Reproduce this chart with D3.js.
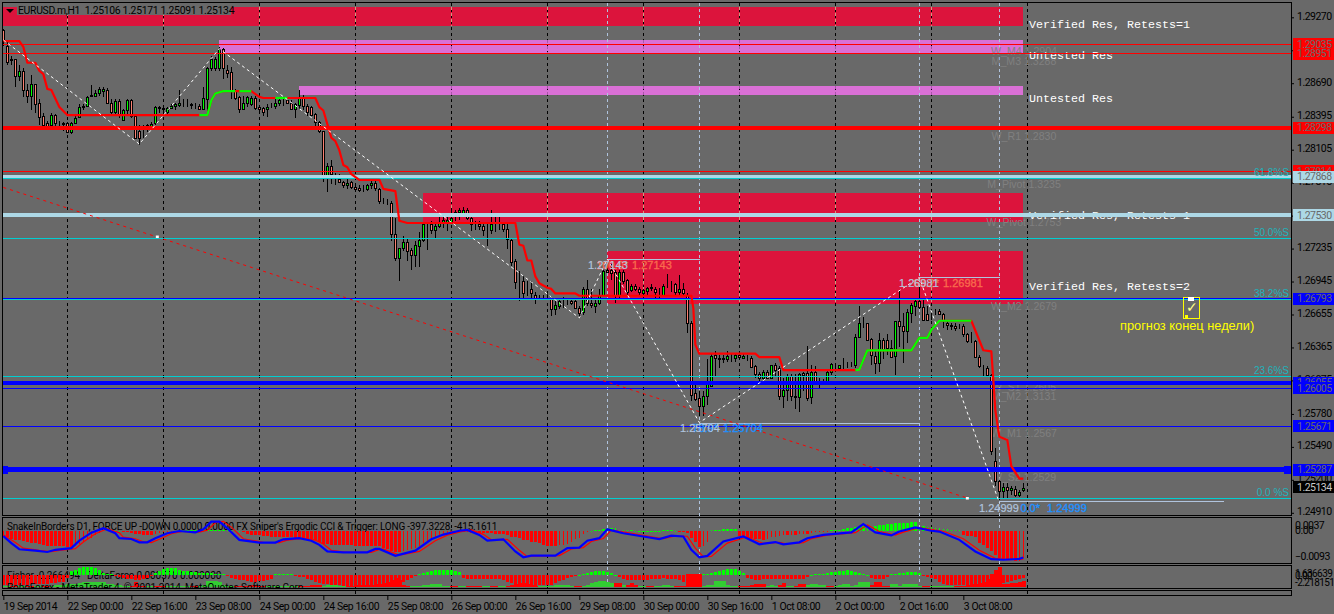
<!DOCTYPE html>
<html><head><meta charset="utf-8">
<script src="https://cdnjs.cloudflare.com/ajax/libs/d3/7.8.5/d3.min.js"></script>
<style>
html,body{margin:0;padding:0;background:#696969;overflow:hidden}
svg{display:block}
text{font-family:"Liberation Sans",Arial,sans-serif}
.ui{font-family:Roboto,"Liberation Sans",sans-serif}
</style></head><body><svg id="c" width="1334" height="614"></svg>
<script>
// Candles: pips above 1.2500, hourly EURUSD
const PRICE_BASE=1.25;
const opens=[416,402,390,390,375,380,363,358,368,352,340,334,332,341,334,334,334,326,334,339,
348,349,359,358,360,362,363,352,344,353,337,345,354,340,327,327,331,331,334,347,
347,344,347,349,350,351,351,351,350,349,346,355,382,382,382,399,381,379,363,357,
346,352,351,356,348,347,346,349,349,352,353,354,352,346,350,357,349,348,342,335,
327,288,296,289,285,282,279,282,278,277,276,276,279,281,276,265,265,264,236,215,
224,229,222,218,226,231,245,245,240,243,246,247,247,254,256,255,257,250,245,245,
243,243,240,245,245,245,241,231,213,195,195,188,188,183,181,181,182,179,170,173,
178,177,177,177,171,168,188,176,173,176,183,205,205,203,183,203,196,187,191,188,
184,186,189,188,187,183,192,192,192,185,188,183,158,96,92,85,94,103,130,127,
127,126,129,127,130,127,129,127,120,113,110,115,110,121,118,94,99,111,94,93,
114,114,93,115,107,107,107,115,120,118,120,120,120,121,146,158,158,144,129,123,
143,143,136,129,160,155,151,167,173,177,172,166,166,168,169,166,158,156,155,155,
155,148,142,142,128,119,118,112,37,19,10,14,11,12,7,11];
const highs=[417,407,393,390,385,382,368,376,368,355,343,336,343,342,336,335,335,335,342,351,
351,358,367,363,366,366,365,355,355,355,346,355,355,340,332,332,333,335,349,349,
349,348,351,352,363,355,355,352,352,351,366,383,393,392,401,400,385,383,364,358,
358,358,358,358,349,348,351,352,355,357,356,357,354,352,363,359,351,349,343,336,
327,299,301,290,289,283,285,283,280,279,279,280,283,283,277,268,267,265,250,224,
235,233,224,230,238,246,245,248,245,251,251,251,257,257,259,260,259,252,248,248,
246,246,257,251,251,245,245,232,214,204,199,195,195,185,183,183,184,182,177,180,
181,180,180,180,173,190,196,188,179,188,205,213,210,205,205,205,197,192,192,190,
188,190,192,190,189,192,201,195,193,200,193,184,160,107,98,98,126,132,133,130,
130,133,131,131,131,131,130,129,121,115,117,117,121,123,120,110,113,113,113,114,
115,138,121,120,110,109,117,123,121,121,127,124,124,148,173,163,158,145,133,149,
145,148,143,160,186,167,170,176,178,190,179,173,168,170,170,167,161,158,158,157,
157,149,150,143,130,121,120,113,48,20,17,17,15,15,11,17];
const lows=[402,385,385,366,371,357,352,345,343,332,331,331,331,331,331,327,325,324,333,338,
345,348,357,357,358,357,351,342,342,338,336,342,338,320,315,321,326,329,332,343,
341,342,346,345,348,348,348,346,346,345,345,342,380,380,380,373,374,355,354,343,
345,348,349,345,342,340,339,347,346,349,349,351,345,338,346,345,340,340,330,325,
282,273,280,279,282,277,276,276,274,273,273,274,276,274,263,263,262,230,213,195,
221,213,205,207,207,229,222,236,233,242,242,239,245,248,249,252,249,239,240,240,
235,226,236,238,240,238,223,208,188,177,179,182,179,175,179,179,179,164,165,170,
171,174,174,170,163,165,173,171,167,174,182,202,196,176,180,192,182,185,186,182,
183,183,186,180,180,182,189,185,183,183,183,149,89,89,76,76,86,102,111,118,
123,124,124,124,126,126,125,118,110,107,108,110,110,111,90,83,89,89,82,80,
98,89,87,105,101,105,107,112,115,117,117,118,119,118,145,154,142,121,113,115,
126,130,127,112,137,123,140,158,164,170,160,160,161,165,165,154,152,152,151,153,
146,140,140,127,118,111,111,42,15,2,3,3,7,5,5,9];
const closes=[407,388,389,375,380,363,358,368,351,339,332,331,341,334,334,333,326,334,338,348,
349,357,358,360,364,364,352,344,353,342,345,354,340,321,321,327,332,333,348,348,
346,347,349,351,352,351,351,350,350,346,356,382,390,390,399,382,378,363,356,346,
352,357,356,347,346,344,348,349,352,354,353,352,346,351,357,349,344,341,335,327,
288,296,289,289,282,279,281,278,276,275,276,279,281,277,265,265,265,236,215,224,
229,221,218,227,231,245,245,240,243,246,249,249,250,256,257,257,250,245,245,243,
240,243,245,245,245,241,232,212,194,195,184,188,184,180,181,181,182,170,174,177,
178,177,176,171,167,188,176,174,176,183,204,203,202,183,203,195,185,191,188,185,
187,189,190,185,187,191,192,192,185,188,184,158,95,91,85,94,104,129,127,126,
126,129,129,130,128,129,129,119,113,110,115,110,121,117,94,99,111,94,93,113,
112,92,115,107,107,107,115,122,120,121,120,120,120,146,158,158,143,130,123,143,
135,136,128,160,155,151,168,174,177,172,161,161,166,168,166,161,156,155,154,155,
148,142,142,128,120,119,112,45,19,10,14,11,13,7,9,13];

// Stop line vertices (bar, pips above base), with the colour run each vertex belongs to
const stopBars=[0,4,5,6,8,9,10,11,12,14,16,49,51,52,53,55,58,59,62,64,65,68,71,78,79,80,81,82,83,84,85,86,87,89,94,95,98,99,101,128,129,130,131,132,133,134,136,137,138,143,144,172,172.5,173,174,188,189,194,195,213,214,216,222,227,229,231,232,234,242,245,247,247.5,248,249,251,252,254,255];
const stopPips=[406,406,401,387,387,380,377,364,363,348,341,341,341,354,360,362,362,362,362,357,356,356,356,356,348,345,333,321,318,310,297,295,289,284,284,276,274,248,246,246,227,226,213,213,199,193,189,188,184,184,182,182,171,139,131,131,128,128,116.5,116.5,117,134,134,134,145,145,152,160,160,134,133,108,81,58,55,32,21,21];
const stopGreenRuns=[[49,58],[59,62],[68,71],[213,242]];

// Horizontal levels
const levelPrices=[1.29035,1.28951,1.27914,1.28298,1.27868,1.27530,1.26793,1.26055,1.26005,1.25671,1.25287];
const levelKinds=["r","r","r","R","L","L","b","B","b","b","X"];
const fibPrices=[1.27860,1.27325,1.26789,1.26115,1.25042];
const fibLabels=["61.8%S","50.0%S","38.2%S","23.6%S","0.0 %S"];
const lastPrice=1.25134;

// Supply/demand zones
const zoneStart=[0,54,74,105,151];
const zoneEnd=255;
const zoneTop=[1.29358,1.29070,1.28665,1.27726,1.27213];
const zoneBottom=[1.29196,1.28956,1.28586,1.27469,1.26747];
const zoneKinds=["v","u","u","v","v"];
const zoneTexts=["Verified Res, Retests=1","Untested Res","Untested Res","Verified Res, Retests=1","Verified Res, Retests=2"];
const zoneTextPrices=[1.29206,1.28931,1.28551,1.27525,1.26895];

// Pivot labels
const pivotNames=["W_M4 1.2904","M_M3 1.3288","W_R1 1.2830","M_Pivot 1.3235","W_Pivot 1.2753","W_M2 1.2679","W_S1 1.2605","M_M2 1.3131","W_M1 1.2567","W_S2 1.2529"];
const pivotPrices=[1.28975,1.28885,1.28225,1.27800,1.27465,1.26730,1.26020,1.25935,1.25610,1.25225];

// Zigzag and fib anchors
const zigBars=[0,34,54,144,151,174,229,249];
const zigPips=[407,315.5,399.3,162.5,214.3,70.4,198.1,-0.1];
const segFrom=[151,174,229,249];
const segTo=[174,229,249,305];
const segPrice=[1.27143,1.25704,1.26981,1.25012];
const segText=["1.27143","1.25704","1.26981","1.24999"];
const segMid=["100.0*","78.9*","63.2*","0.0*"];

const trendBars=[0,241];
const trendPrices=[1.27773,1.25040];
const trendMarkBars=[38.5,241];
const trendMarkPrices=[1.27341,1.25040];

// Separators
const dayBars=[16,40,64,88,112,136,160,184,208,232,256];
const markBars=[151,174,229,249];
const priceTicks=[1.29270,1.28980,1.28690,1.28395,1.28105,1.27815,1.27525,1.27235,1.26945,1.26655,1.26365,1.26075,1.25780,1.25490,1.25200,1.24910];
const timeBars=[0,16,32,48,64,80,96,112,128,144,160,176,192,208,224,240];
const timeLabels=["19 Sep 2014","22 Sep 00:00","22 Sep 16:00","23 Sep 08:00","24 Sep 00:00","24 Sep 16:00","25 Sep 08:00","26 Sep 00:00","26 Sep 16:00","29 Sep 08:00","30 Sep 00:00","30 Sep 16:00","1 Oct 08:00","2 Oct 00:00","2 Oct 16:00","3 Oct 08:00"];

// Ergodic CCI histogram and lines (units of 0.0001)
const ergoHist=[-18,-22,-28,-32,-34,-36,-38,-42,-44,-46,-50,-54,-56,-56,-56,-56,-58,-60,-54,-48,
-40,-30,-24,-16,-8,2,4,4,3,1,-2,-4,-8,-10,-12,-13,-14,-14,-10,-6,
-4,-3,-2,-1,1,2,3,3,3,2,2,3,4,4,5,5,4,3,2,1,
-4,-10,-14,-16,-16,-18,-18,-20,-20,-20,-22,-22,-22,-24,-26,-28,-28,-30,-32,-40,
-46,-48,-50,-50,-52,-52,-52,-52,-53,-53,-54,-54,-55,-55,-55,-62,-66,-72,-75,-75,
-74,-70,-66,-60,-54,-44,-36,-30,-24,-16,-10,-8,-10,-6,-4,-4,-3,-6,-8,-8,
-8,-8,-8,-10,-10,-12,-16,-20,-22,-26,-32,-34,-38,-40,-42,-52,-53,-53,-53,-52,
-50,-46,-38,-30,-24,-10,-3,1,3,4,6,10,12,10,4,3,2,2,1,1,
1,1,1,1,1,2,2,2,1,-1,-2,-8,-26,-38,-59,-56,-38,3,4,5,
6,8,9,9,-18,-20,-24,-26,-28,-30,-32,-28,-22,-20,-18,-16,-16,-14,-14,-12,
-10,-10,-8,-4,-3,-2,-1,2,3,5,8,10,12,14,16,18,16,10,18,20,
22,24,26,28,28,30,30,31,31,16,18,16,14,12,10,8,6,5,4,2,
-16,-18,-18,-22,-44,-52,-62,-72,-86,-98,-104,-104,-106,-110,-108,-98];
const ergoBars=[0,2,4,8,11,13,17,19,22,25,28,29,32,34,36,38,41,44,48,50,52,54,56,59,64,68,70,74,77,79,81,85,91,93,94,98,103,107,110,114,116,119,121,125,128,130,132,138,141,144,146,149,151,155,160,164,167,170,172,174,176,180,185,189,193,195,199,201,205,212,215,218,222,224,228,232,234,239,243,247,250,254,255];
const ergoValues=[-18,-44,-66,-71,-76,-68,-62,-35,-6,10,-8,-26,-29,-41,-41,-26,-8,0,-5,6,34,34,10,-32,-42,-42,-30,-26,-35,-50,-74,-77,-77,-65,-65,-90,-71,-30,-13,1,4,-14,-35,-30,-74,-95,-89,-89,-62,-60,-35,-26,6,-8,-20,-29,-17,-20,-68,-95,-90,-38,-20,-48,-40,-48,-41,-26,-14,-5,25,-5,-16,-2,13,1,-2,-32,-74,-102,-104,-101,-96];
const trigBars=[0,3,5,9,12,14,18,20,23,26,29,30,33,35,37,39,42,45,49,51,53,55,57,60,65,69,71,75,78,80,82,86,92,94,95,99,104,108,111,115,117,120,122,126,129,131,133,139,142,145,147,150,152,156,161,165,168,171,173,175,177,181,186,190,194,196,200,202,206,213,216,219,223,225,229,233,235,240,244,248,251,255];
const trigValues=[-14,-42,-62,-70,-75,-70,-64,-40,-10,8,-6,-22,-28,-39,-42,-30,-10,-1,-4,3,30,35,14,-28,-41,-42,-33,-27,-33,-47,-70,-77,-77,-67,-65,-87,-74,-35,-15,-1,4,-12,-32,-30,-70,-93,-91,-89,-65,-60,-38,-27,3,-6,-18,-28,-18,-19,-62,-93,-92,-44,-21,-45,-41,-47,-42,-28,-15,-6,22,-2,-15,-4,12,3,-1,-28,-70,-99,-104,-102];
const ergoTicks=[0.0037,0,-0.0093];

// Fisher histogram and DeltaForce columns
const fisher=[-3.3,-3.3,-3.3,-3.3,-3.3,-3.2,-3.2,-3.1,-3.1,-3.0,-3.0,-2.9,-2.8,-2.6,-2.4,-2.2,-1.0,1.2,1.8,2.2,
2.6,2.8,2.6,2.4,1.8,0.8,0.4,0.3,-0.3,-0.6,-1.0,-1.2,-1.4,-1.5,-1.6,-1.4,-0.9,-0.4,0.5,1.4,
2.0,2.2,2.3,2.2,1.6,1.4,1.3,1.1,0.9,0.8,0.7,0.6,0.5,0.4,0.4,0.2,-0.3,-0.9,-1.2,-1.6,
-1.8,-2.0,-2.2,-2.2,-2.1,-2.0,-1.7,-1.2,0.2,0.3,0.4,0.4,0.3,-0.3,-0.6,-0.8,-1.2,-1.8,-2.2,-2.6,
-2.9,-3.0,-3.2,-3.3,-3.4,-3.5,-3.5,-3.6,-3.6,-3.6,-3.6,-3.6,-3.6,-3.7,-3.7,-3.8,-3.8,-3.9,-3.9,-3.5,
-2.4,-1.6,-0.9,-0.4,0.4,0.7,1.0,1.4,1.5,1.5,1.6,1.6,1.5,1.3,1.0,-1.0,-1.2,-1.3,-1.3,-1.2,
-1.2,-1.3,-1.3,-1.2,-1.3,-1.5,-2.2,-2.8,-3.0,-4.0,-4.1,-4.1,-4.1,-3.6,-3.4,-3.3,-3.3,-3.3,-2.8,-2.0,
-1.5,-1.0,-0.8,-0.4,0.1,0.3,0.5,1.0,1.2,1.4,1.4,1.1,0.6,0.1,-0.8,-1.4,-1.6,-1.7,-1.7,-1.7,
-1.6,-1.5,-1.4,-1.3,-1.2,-1.1,-1.2,-1.4,-1.2,-1.6,-2.4,-4.1,-4.1,-4.1,-4.1,0.2,0.3,0.5,1.0,1.4,
1.6,1.9,2.0,1.9,1.2,0.6,-1.0,-1.3,-1.5,-1.5,-1.3,-1.3,-1.2,-1.3,-1.3,-1.2,-1.3,-1.3,-1.4,-1.3,
-1.2,-0.8,0.1,0.2,0.3,0.4,0.6,0.9,1.1,1.3,1.4,1.5,1.4,1.1,0.8,0.4,0.1,-1.0,-1.2,-1.3,
-1.4,-0.6,0.2,0.3,0.5,0.8,0.9,1.1,1.0,0.8,-0.3,-0.8,-1.0,-1.2,-2.4,-3.0,-3.2,-3.2,-3.2,-3.2,
-3.2,-3.2,-3.2,-3.2,-3.2,-3.2,-3.2,-3.2,-3.0,-2.8,-2.6,-2.4,-2.0,-1.6,-1.2,-0.9];
const deltaForce=[1,1,-1,-1,1,1,-1,-1,1,1,-1,-1,1,2,2,2,3,3,3,4,
5,5,5,5,5,5,3,3,2,2,1,1,-1,-5,-1,-1,1,1,-1,-1,
-1,1,1,1,1,1,1,-1,-1,1,2,6,6,6,5,2,1,1,-1,-1,
-1,-1,-2,-2,-1,-1,1,1,1,1,1,1,1,1,-1,-1,-1,-2,-2,-2,
1,2,2,2,1,1,-1,-1,-2,-2,-2,-2,-2,-3,-3,-4,-5,-7,-9,-7,
-2,-1,1,1,1,2,2,3,3,3,1,1,-1,-1,1,1,-1,-1,-1,-1,
1,1,-1,-1,1,1,-1,-2,-3,-4,-4,-3,-2,-1,1,1,1,1,2,2,
2,2,1,-1,-1,1,2,4,5,6,6,5,4,-4,-4,2,-2,-4,-2,1,
1,-1,-1,1,1,2,2,1,-1,-1,-1,-13,-13,-13,-13,1,2,2,6,6,
6,2,1,1,-1,-1,-1,-2,-3,-3,-3,1,2,1,-2,-4,1,1,-1,-3,
-3,2,3,3,2,2,-1,-1,1,2,3,3,1,2,5,5,5,-2,-5,-5,
-1,-1,3,3,1,3,3,3,3,1,-1,-1,1,1,1,1,1,1,-1,-1,
-1,-2,-3,-3,-4,-5,-8,-13,-17,-20,-3,-3,-4,-4,-5,-6];

const titleText="EURUSD.m,H1  1.25106 1.25171 1.25091 1.25134";
const ergoTitle="SnakeInBorders D1, FORCE UP -DOWN  0.0000 0.0000  FX Sniper's Ergodic CCI & Trigger: LONG -397.3228, -415.1611";
const fisherTitle="Fisher -0.266494   DeltaForce 0.000570 0.000000";
const brokerText="RoboForex - MetaTrader 4, © 2001-2014, MetaQuotes Software Corp.";
const noteText="прогноз конец недели)";

// ---------- layout ----------
const svg=d3.select("#c");
const x=d3.scaleLinear().domain([0,255]).range([3.33,1023.33]);
const y=d3.scaleLinear().domain([1.29270,1.24910]).range([17.3,512.8]);
const px=b=>Math.floor(x(b))+.5;
const pipY=p=>y(PRICE_BASE+p*1e-4);
const yErgo=d3.scaleLinear().domain([0,-93]).range([531,556.7]);
const yFisher=d3.scaleLinear().domain([0,-2.218]).range([575,581.7]);
const yDelta=d3.scaleLinear().domain([0,20]).range([587,567]);
const C={bg:"#696969",crim:"#DC143C",orch:"#DA70D6",red:"#FF0000",blue:"#0000FF",light:"#ADD8E6",cyan:"#00CED1",fib:"#1FB3BB",gray:"#808080",pale:"#B0C4DE",tomato:"#F96A4C",dodger:"#1E90FF",salmon:"#FA8072",lime:"#00FF00",green2:"#32CD32"};
const LEFT=3,RIGHT=1291;
const L=svg.append("g");

// sub windows background frames
const frames=[[2.5,2.5,1289,513],[2.5,517.5,1289,46],[2.5,565.5,1289,23],[2.5,590.5,1289,5]];
L.append("g").selectAll("rect").data(frames).join("rect")
 .attr("x",d=>d[0]).attr("y",d=>d[1]).attr("width",d=>d[2]).attr("height",d=>d[3])
 .attr("fill",C.bg).attr("stroke","#000").attr("shape-rendering","crispEdges");

// zones
const zoneG=L.append("g").attr("shape-rendering","crispEdges");
zoneG.selectAll("rect").data(zoneStart).join("rect")
 .attr("x",d=>Math.round(x(d))).attr("width",d=>x(zoneEnd)-x(d))
 .attr("y",(d,i)=>Math.round(y(zoneTop[i]))).attr("height",(d,i)=>Math.round(y(zoneBottom[i]))-Math.round(y(zoneTop[i])))
 .attr("fill",(d,i)=>zoneKinds[i]=="v"?C.crim:C.orch);

// separators, mainly black, tan across zones
const sep=L.append("g").attr("shape-rendering","crispEdges");
sep.selectAll("line.d").data(dayBars).join("line").attr("class","d")
 .attr("x1",d=>px(d)).attr("x2",d=>px(d)).attr("y1",3).attr("y2",596)
 .attr("stroke","#000").attr("stroke-dasharray","3,3");
dayBars.forEach(b=>zoneStart.forEach((s,i)=>{ if(b>=s&&b<=zoneEnd){
 sep.append("line").attr("x1",px(b)).attr("x2",px(b)).attr("y1",Math.round(y(zoneTop[i]))).attr("y2",Math.round(y(zoneBottom[i])))
  .attr("stroke",zoneKinds[i]=="v"?"#C9A080":"#A858A8").attr("stroke-dasharray","3,3");
}}));
sep.selectAll("line.m").data(markBars).join("line").attr("class","m")
 .attr("x1",d=>px(d)).attr("x2",d=>px(d)).attr("y1",3).attr("y2",584)
 .attr("stroke",C.pale).attr("stroke-dasharray","3,3");

// pivot labels + zone texts (under the level lines)
L.append("g").selectAll("text").data(pivotNames).join("text").text(d=>d)
 .attr("x",1024).attr("y",(d,i)=>y(pivotPrices[i])+4).attr("text-anchor","middle")
 .attr("fill",C.gray).attr("font-size",10.6);
L.append("g").selectAll("text").data(zoneTexts).join("text").text(d=>d)
 .attr("x",1029).attr("y",(d,i)=>y(zoneTextPrices[i])+3).attr("fill","#fff")
 .style("font-family",'"Liberation Mono",monospace').attr("font-size",11.67).attr("font-weight",400);

// candles
const idx=d3.range(opens.length);
const cg=L.append("g").attr("shape-rendering","crispEdges");
const pY=v=>Math.round(pipY(v));
cg.selectAll("line").data(idx).join("line").attr("x1",px).attr("x2",px)
 .attr("y1",i=>pY(highs[i])).attr("y2",i=>pY(lows[i])).attr("stroke","#000");
cg.selectAll("rect").data(idx).join("rect")
 .attr("x",i=>px(i)-1).attr("width",2)
 .attr("y",i=>pY(Math.max(opens[i],closes[i]))+.5)
 .attr("height",i=>Math.max(0,pY(Math.min(opens[i],closes[i]))-pY(Math.max(opens[i],closes[i]))))
 .attr("fill",i=>closes[i]>opens[i]?C.lime:C.salmon).attr("stroke","#000");

// levels
const lw={r:1,R:4,L:4,b:1,B:4,X:5};
const lc={r:C.red,R:C.red,L:C.light,b:C.blue,B:C.blue,X:C.blue};
const lvG=L.append("g").attr("shape-rendering","crispEdges");
lvG.selectAll("rect").data(levelPrices).join("rect")
 .attr("x",LEFT).attr("width",RIGHT-LEFT)
 .attr("y",(d,i)=>Math.round(y(d)-lw[levelKinds[i]]/2)).attr("height",(d,i)=>lw[levelKinds[i]])
 .attr("fill",(d,i)=>lc[levelKinds[i]]);
// fib segments first, fib lines above them
lvG.append("g").selectAll("line").data(segFrom).join("line")
 .attr("x1",d=>px(d)).attr("x2",(d,i)=>px(segTo[i])).attr("y1",(d,i)=>Math.round(y(segPrice[i]))+.5).attr("y2",(d,i)=>Math.round(y(segPrice[i]))+.5)
 .attr("stroke",C.pale);
lvG.append("g").selectAll("line").data(fibPrices).join("line")
 .attr("x1",LEFT).attr("x2",RIGHT).attr("y1",d=>Math.round(y(d))+.5).attr("y2",d=>Math.round(y(d))+.5)
 .attr("stroke",C.cyan);
// end squares of the main blue level
[[3,8],[1284,1291]].forEach(s=>lvG.append("rect").attr("x",s[0]).attr("width",s[1]-s[0]).attr("y",Math.round(y(1.25287))-4).attr("height",8).attr("fill",C.blue));
L.append("g").selectAll("text").data(fibLabels).join("text").text(d=>d)
 .attr("x",1289).attr("y",(d,i)=>y(fibPrices[i])-2).attr("text-anchor","end").attr("fill",C.fib).attr("font-size",10);

// stop line
const lineGen=d3.line().x(d=>x(d[0])).y(d=>pipY(d[1]));
const stopPts=stopBars.map((b,i)=>[b,stopPips[i]]);
L.append("path").attr("d",lineGen(stopPts)).attr("fill","none").attr("stroke",C.red).attr("stroke-width",2.2).attr("stroke-linejoin","round");
stopGreenRuns.forEach(r=>{
 L.append("path").attr("d",lineGen(stopPts.filter(p=>p[0]>=r[0]&&p[0]<=r[1]))).attr("fill","none").attr("stroke",C.lime).attr("stroke-width",2.2).attr("stroke-linejoin","round");
});

// trend
L.append("line").attr("x1",x(trendBars[0])).attr("x2",x(trendBars[1])).attr("y1",y(trendPrices[0])).attr("y2",y(trendPrices[1]))
 .attr("stroke",C.red).attr("stroke-dasharray","3,4");
L.append("g").selectAll("rect").data(trendMarkBars).join("rect")
 .attr("x",d=>x(d)-1.5).attr("width",3).attr("y",(d,i)=>y(trendMarkPrices[i])-1).attr("height",2.5).attr("fill","#fff");

// zigzag
L.append("path").attr("d",lineGen(zigBars.map((b,i)=>[b,zigPips[i]]))).attr("fill","none").attr("stroke","#fff").attr("stroke-dasharray","3,3");

// fib annotations
const ann=L.append("g").attr("font-size",11);
segFrom.forEach((b,i)=>{
 const yy=y(segPrice[i])+(i==3?11:9.6);
 const ax=[588,680,899,979][i], mx=[628,718,939,1040][i], rx=[632,723,943,1047][i];
 const col=(i==0||i==2)?C.tomato:C.dodger;
 ann.append("text").text(segMid[i]).attr("x",mx).attr("y",yy).attr("text-anchor","end").attr("fill",col).attr("stroke",col).attr("stroke-width",.35);
 ann.append("text").text(segText[i]).attr("x",ax).attr("y",yy).attr("fill",C.pale).attr("stroke",C.pale).attr("stroke-width",.2);
 ann.append("text").text(segText[i]).attr("x",rx).attr("y",yy).attr("fill",col).attr("stroke",col).attr("stroke-width",.35);
});

// note
const ng=L.append("g").attr("shape-rendering","crispEdges");
ng.append("rect").attr("x",1183.5).attr("y",297.5).attr("width",16).attr("height",21).attr("fill","none").attr("stroke","#FFFF00");
ng.append("rect").attr("x",1188).attr("y",297).attr("width",6).attr("height",4).attr("fill","#fff");
ng.append("rect").attr("x",1185).attr("y",315).attr("width",3).attr("height",3).attr("fill","#FFFF00");
L.append("text").text("✓").attr("x",1186).attr("y",312).attr("fill","#FFFF88").attr("font-size",14).style("font-family",'"DejaVu Sans"');
L.append("text").text(noteText).attr("x",1120).attr("y",330).attr("fill","#FFFF00").attr("font-size",12.8);

// ergodic panel
const clip=svg.append("defs");
clip.append("clipPath").attr("id","p1").append("rect").attr("x",3).attr("y",518).attr("width",1288).attr("height",45);
clip.append("clipPath").attr("id","p2").append("rect").attr("x",3).attr("y",566).attr("width",1288).attr("height",23);
const e=L.append("g").attr("clip-path","url(#p1)");
e.append("text").attr("class","ui").text(ergoTitle).attr("x",7).attr("y",530).attr("fill","#000").attr("font-size",10).attr("letter-spacing","-0.2");
e.append("g").attr("shape-rendering","crispEdges").selectAll("rect").data(ergoHist).join("rect")
 .attr("x",(d,i)=>{const w=(i&&Math.abs(d)>=Math.abs(ergoHist[i-1]))?3:1;return px(i)-.5-(w-1)/2})
 .attr("width",(d,i)=>(i&&Math.abs(d)>=Math.abs(ergoHist[i-1]))?3:1)
 .attr("y",d=>d>0?Math.round(yErgo(d)):yErgo(0)).attr("height",d=>Math.max(1,Math.round(Math.abs(yErgo(d)-yErgo(0)))))
 .attr("fill",d=>d>0?C.lime:C.red);
const lineE=d3.line().x(d=>x(d[0])).y(d=>yErgo(d[1]));
e.append("path").attr("d",lineE(trigBars.map((b,i)=>[b,trigValues[i]]))).attr("fill","none").attr("stroke",C.red).attr("stroke-width",1.2);
e.append("path").attr("d",lineE(ergoBars.map((b,i)=>[b,ergoValues[i]]))).attr("fill","none").attr("stroke",C.blue).attr("stroke-width",2.2);

// fisher panel
const f=L.append("g").attr("clip-path","url(#p2)");
f.append("text").attr("class","ui").text(fisherTitle).attr("x",7).attr("y",579).attr("fill","#000").attr("font-size",10).attr("letter-spacing","-0.1").style("white-space","pre");
f.append("g").attr("shape-rendering","crispEdges").selectAll("rect").data(deltaForce).join("rect")
 .attr("x",(d,i)=>px(i)-1.5).attr("width",4)
 .attr("y",d=>yDelta(Math.abs(d))).attr("height",d=>yDelta(0)-yDelta(Math.abs(d)))
 .attr("fill",d=>d>0?C.green2:C.red);
f.append("g").attr("shape-rendering","crispEdges").selectAll("rect").data(fisher).join("rect")
 .attr("x",(d,i)=>px(i)-1.5).attr("width",3)
 .attr("y",d=>d>0?Math.round(yFisher(d)):yFisher(0)).attr("height",d=>Math.max(1,Math.round(Math.abs(yFisher(d)-yFisher(0)))))
 .attr("fill",d=>d>0?C.lime:C.red);
f.append("text").attr("class","ui").text(brokerText).attr("x",7).attr("y",591).attr("fill","#000").attr("font-size",10).attr("letter-spacing","-0.1");

// title
L.append("rect").attr("x",17).attr("y",3).attr("width",214).attr("height",12).attr("fill",C.bg);
L.append("path").attr("d","M6 9h8l-4 4z").attr("fill","#000");
L.append("text").attr("class","ui").text(titleText).attr("x",18).attr("y",14).attr("fill","#000").attr("font-size",10.4).attr("letter-spacing","-0.3").style("white-space","pre");

// price axis
const axR=d3.axisRight(y).tickValues(priceTicks).tickFormat(d3.format(".5f")).tickSize(3).tickPadding(3);
const gR=L.append("g").attr("transform","translate(1291,0)").call(axR);
gR.select(".domain").remove();
gR.selectAll("line").attr("stroke","#000");
gR.selectAll("text").attr("fill","#000").attr("font-size",10.5).attr("letter-spacing","-0.5").attr("dy","0.2em").style("font-family","Roboto");

// time axis
const axB=d3.axisBottom(x).tickValues(timeBars).tickFormat((d,i)=>timeLabels[i]).tickSize(4).tickPadding(3);
const gB=L.append("g").attr("transform","translate(0,596)").call(axB);
gB.select(".domain").remove();
gB.selectAll("line").attr("stroke","#000");
gB.selectAll("text").attr("fill","#000").attr("font-size",10.4).attr("letter-spacing","-0.4").attr("text-anchor","start").attr("dy","0.7em").style("font-family","Roboto");

// sub panel labels
const ergoLabelYs=[525,530,556];
L.append("g").selectAll("text").data(ergoTicks).join("text").attr("class","ui")
 .text((d,i)=>i==1?"0.00":d3.format(".4f")(d))
 .attr("x",1295).attr("y",(d,i)=>ergoLabelYs[i]+4).attr("fill","#000").attr("font-size",10.5).attr("letter-spacing","-0.5");
L.append("g").selectAll("text").data(["1.636639","0.00","-2.218151"]).join("text").attr("class","ui").text(d=>d)
 .attr("x",1295).attr("y",(d,i)=>[573,575,582][i]+4).attr("fill","#000").attr("font-size",10).attr("letter-spacing","-0.6");

// right labels
const boxes=levelPrices.map((p,i)=>({p,fill:lc[levelKinds[i]],txt:C.bg})).concat([{p:lastPrice,fill:"#000",txt:"#C8C8C8"}]);
const bg=L.append("g");
boxes.forEach(b=>{
 const yy=y(b.p);
 bg.append("rect").attr("x",1293).attr("y",Math.round(yy-6)).attr("width",41).attr("height",12).attr("fill",b.fill).attr("shape-rendering","crispEdges");
 bg.append("text").attr("class","ui").text(d3.format(".5f")(b.p)).attr("x",1297).attr("y",yy+3.5).attr("fill",b.txt).attr("font-size",10.5).attr("letter-spacing","-0.5");
});
</script></body></html>
